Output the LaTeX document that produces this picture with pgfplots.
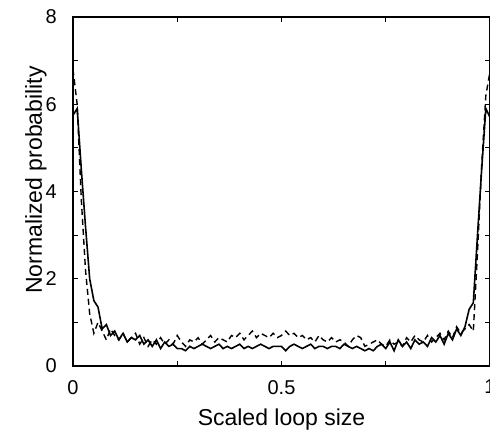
\documentclass[border=0pt]{standalone}
\usepackage{pgfplots}
\pgfplotsset{compat=1.18}
\usepackage{fontspec}
\setmainfont{Liberation Sans}
\pgfplotstableread{
x y
0.00 5.75
0.01 5.9
0.02 4.5
0.03 3.2
0.04 2.0
0.05 1.5
0.06 1.35
0.07 0.85
0.08 0.95
0.09 0.7
0.10 0.8
0.11 0.6
0.12 0.75
0.13 0.55
0.14 0.65
0.15 0.6
0.16 0.7
0.17 0.5
0.18 0.6
0.19 0.45
0.20 0.6
0.21 0.4
0.22 0.55
0.23 0.45
0.24 0.5
0.25 0.4
0.26 0.4
0.27 0.35
0.28 0.45
0.29 0.4
0.30 0.45
0.31 0.5
0.32 0.45
0.33 0.4
0.34 0.45
0.35 0.5
0.36 0.4
0.37 0.45
0.38 0.4
0.39 0.45
0.40 0.5
0.41 0.4
0.42 0.45
0.43 0.4
0.44 0.45
0.45 0.5
0.46 0.45
0.47 0.4
0.48 0.45
0.49 0.45
0.50 0.45
0.51 0.35
0.52 0.45
0.53 0.5
0.54 0.45
0.55 0.4
0.56 0.45
0.57 0.5
0.58 0.4
0.59 0.45
0.60 0.45
0.61 0.4
0.62 0.45
0.63 0.45
0.64 0.4
0.65 0.5
0.66 0.45
0.67 0.4
0.68 0.45
0.69 0.4
0.70 0.35
0.71 0.4
0.72 0.35
0.73 0.45
0.74 0.5
0.75 0.4
0.76 0.55
0.77 0.35
0.78 0.6
0.79 0.45
0.80 0.55
0.81 0.4
0.82 0.6
0.83 0.5
0.84 0.55
0.85 0.45
0.86 0.65
0.87 0.55
0.88 0.7
0.89 0.5
0.90 0.75
0.91 0.6
0.92 0.85
0.93 0.7
0.94 0.9
0.95 1.3
0.96 1.45
0.97 3.0
0.98 4.5
0.99 5.9
1.00 5.7
}\solid
\pgfplotstableread{
x y
0.00 6.8
0.01 6.0
0.02 3.8
0.03 2.2
0.04 1.2
0.05 0.75
0.06 1.0
0.07 0.8
0.08 0.6
0.09 0.85
0.10 0.7
0.11 0.6
0.12 0.75
0.13 0.55
0.14 0.65
0.15 0.75
0.16 0.5
0.17 0.65
0.18 0.45
0.19 0.6
0.20 0.5
0.21 0.65
0.22 0.5
0.23 0.6
0.24 0.5
0.25 0.7
0.26 0.55
0.27 0.45
0.28 0.6
0.29 0.55
0.30 0.65
0.31 0.5
0.32 0.6
0.33 0.7
0.34 0.55
0.35 0.65
0.36 0.6
0.37 0.55
0.38 0.7
0.39 0.65
0.40 0.75
0.41 0.6
0.42 0.7
0.43 0.8
0.44 0.65
0.45 0.75
0.46 0.7
0.47 0.65
0.48 0.75
0.49 0.65
0.50 0.7
0.51 0.8
0.52 0.7
0.53 0.75
0.54 0.65
0.55 0.7
0.56 0.6
0.57 0.65
0.58 0.55
0.59 0.7
0.60 0.6
0.61 0.55
0.62 0.65
0.63 0.55
0.64 0.6
0.65 0.55
0.66 0.45
0.67 0.6
0.68 0.7
0.69 0.65
0.70 0.45
0.71 0.5
0.72 0.55
0.73 0.6
0.74 0.5
0.75 0.45
0.76 0.6
0.77 0.5
0.78 0.55
0.79 0.45
0.80 0.65
0.81 0.55
0.82 0.7
0.83 0.6
0.84 0.55
0.85 0.7
0.86 0.55
0.87 0.65
0.88 0.75
0.89 0.6
0.90 0.8
0.91 0.65
0.92 0.9
0.93 0.75
0.94 0.85
0.95 0.95
0.96 0.8
0.97 2.6
0.98 4.6
0.99 6.2
1.00 6.75
}\dashed
\begin{document}
\begin{tikzpicture}
\begin{axis}[
  scale only axis,
  width=417pt, height=349pt,
  xmin=0, xmax=1, ymin=0, ymax=8,
  xtick={0,0.25,0.5,0.75,1},
  xticklabels={0,,0.5,,1},
  ytick={0,1,2,3,4,5,6,7,8},
  yticklabels={0,,2,,4,,6,,8},
  tick align=inside,
  major tick length=5pt,
  axis line style={line width=1.6pt},
  every tick/.style={black, line width=1pt},
  tick label style={font=\fontsize{20}{20}\selectfont, inner sep=0pt},
  label style={font=\fontsize{23}{23}\selectfont, inner sep=0pt},
  /pgf/number format/assume math mode=true,
  xticklabel style={anchor=north, yshift=-14pt},
  yticklabel style={anchor=east, xshift=-16pt},
  xlabel={Scaled loop size},
  ylabel={Normalized probability},
  xlabel style={at={(rel axis cs:0.5,0)}, anchor=base, yshift=-59pt},
  ylabel style={at={(rel axis cs:0,0.533)}, anchor=base, yshift=31pt},
]
\addplot[black, line width=1.6pt] table[x=x,y=y] {\solid};
\addplot[black, line width=1.4pt, dash pattern=on 6pt off 4pt] table[x=x,y=y] {\dashed};
\coordinate (bl) at (rel axis cs:0,0);
\coordinate (tr) at (rel axis cs:1,1);
\end{axis}
\pgfresetboundingbox
\path[use as bounding box] ([shift={(-73pt,-66pt)}]bl) rectangle ([shift={(0pt,17pt)}]tr);
\end{tikzpicture}
\end{document}
